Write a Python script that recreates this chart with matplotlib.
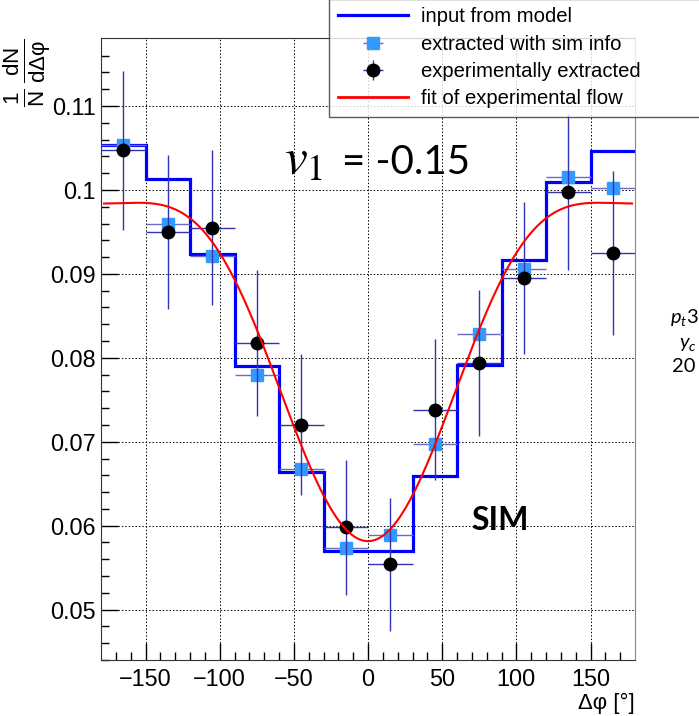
import numpy as np
import matplotlib
matplotlib.use("Agg")
import matplotlib.pyplot as plt
from matplotlib.lines import Line2D

plt.rcParams['font.family'] = ['Liberation Sans', 'DejaVu Sans']
plt.rcParams['mathtext.fontset'] = 'custom'
plt.rcParams['mathtext.rm'] = 'Liberation Sans'
plt.rcParams['mathtext.it'] = 'Lato:italic'

# ---------------- data ----------------
bin_edges = [-180, -150, -120, -90, -60, -30, 0, 30, 60, 90, 120, 150, 180]
model_input = [0.1053, 0.1013, 0.0924, 0.0790, 0.0664, 0.0570,
               0.0570, 0.0659, 0.0792, 0.0917, 0.1009, 0.1046]

dphi = [-165, -135, -105, -75, -45, -15, 15, 45, 75, 105, 135, 165]
sim_vals = [0.1053, 0.0959, 0.0921, 0.0780, 0.0667, 0.0574,
            0.0589, 0.0697, 0.0828, 0.0906, 0.1015, 0.1002]
exp_vals = [0.1047, 0.0950, 0.0955, 0.0818, 0.0720, 0.0598,
            0.0554, 0.0738, 0.0794, 0.0895, 0.0998, 0.0925]
exp_errs = [0.0095, 0.0092, 0.0092, 0.0087, 0.0084, 0.0080,
            0.0079, 0.0084, 0.0087, 0.0091, 0.0093, 0.0098]
bin_half = 15

# fit: N0 * (1 + 2 v1 cos + 2 v2 cos2)
fit_norm = 0.0838
fit_v1 = -0.120
fit_v2 = -0.033

# ---------------- figure ----------------
fig = plt.figure(figsize=(6.99, 7.16), dpi=100)
ax = fig.add_axes([101/699, 56/716, 534/699, 622/716])

ax.stairs(model_input, bin_edges, baseline=None, color='#0000ff', lw=2.3, zorder=2)

err_sim = ax.errorbar(dphi, sim_vals, xerr=bin_half, fmt='s', color='#3399ff',
                      ms=8.5, mec='#3399ff', ecolor='#6a6ac8', elinewidth=1,
                      capsize=0, zorder=3)
err_exp = ax.errorbar(dphi, exp_vals, xerr=bin_half, yerr=exp_errs, fmt='o',
                      color='black', ms=9, ecolor='#3333b5', elinewidth=1,
                      capsize=0, zorder=4)

phi = np.linspace(-178, 178, 400)
fit_curve = fit_norm * (1 + 2*fit_v1*np.cos(np.radians(phi)) + 2*fit_v2*np.cos(2*np.radians(phi)))
ax.plot(phi, fit_curve, color='#ff0000', lw=1.5, zorder=5)

ax.set_xlim(-180, 180)
ax.set_ylim(0.0440, 0.1181)
ax.set_xticks([-150, -100, -50, 0, 50, 100, 150])
ax.set_xticklabels(['\u2212150', '\u2212100', '\u221250', '0', '50', '100', '150'])
ax.set_xticks(np.arange(-170, 180, 10), minor=True)
ax.set_yticks([0.05, 0.06, 0.07, 0.08, 0.09, 0.1, 0.11])
ax.set_yticklabels(['0.05', '0.06', '0.07', '0.08', '0.09', '0.1', '0.11'])
ax.set_yticks(np.arange(0.044, 0.118, 0.002), minor=True)
ax.tick_params(which='both', direction='in', top=False, right=False, labelsize=16.8, colors='black')
ax.tick_params(which='major', length=12, width=1)
ax.tick_params(which='minor', length=6, width=1)
ax.tick_params(axis='x', pad=6)
ax.tick_params(axis='y', pad=4)
ax.grid(True, which='major', linestyle=(0, (1.5, 2)), color='black', lw=0.7)
ax.spines['right'].set_color('#888888')
for s in ['left', 'bottom', 'top']:
    ax.spines[s].set_color('#333333')

fig.text(635/699, 1 - 703/716, 'Δφ [°]', ha='right', va='center', fontsize=16)
fig.text(27/699, 1 - 39/716, r'$\frac{1}{\mathrm{N}}\,\frac{\mathrm{dN}}{\mathrm{dΔφ}}$',
         rotation=90, ha='center', va='top', fontsize=23)

fig.text(284/699, 1 - 161/716, r'$v_1$', math_fontfamily='stix',
         fontsize=37, ha='left', va='center')
fig.text(342/699, 1 - 163/716, '= -0.15', family='Lato', fontsize=29,
         ha='left', va='center')
fig.text(471/699, 1 - 521/716, 'SIM', family='Lato', weight='bold', fontsize=23,
         ha='left', va='center')

side_lines = [r'$p_t$3', r'$y_c$', '20']
side_y = [318, 344, 367]
side_x = [670, 679, 672]
for t, yy, xx in zip(side_lines, side_y, side_x):
    fig.text(xx/699, 1 - yy/716, t, family='Lato', fontsize=14.5,
             ha='left', va='center')

handles = [Line2D([], [], color='#0000ff', lw=2.3), err_sim, err_exp,
           Line2D([], [], color='#ff0000', lw=2)]
labels = ['input from model', 'extracted with sim info',
          'experimentally extracted', 'fit of experimental flow']
leg = fig.legend(handles, labels, loc='upper left',
                 bbox_to_anchor=(329/699, 1 - 6/716, 0.6, 0.01), mode='expand',
                 fontsize=14.6, frameon=True, fancybox=False, borderpad=0.42,
                 handlelength=3.5, handletextpad=0.6, labelspacing=0.41,
                 borderaxespad=0, edgecolor='#333333')
leg.get_frame().set_linewidth(1)

fig.savefig('out.png', dpi=100)
